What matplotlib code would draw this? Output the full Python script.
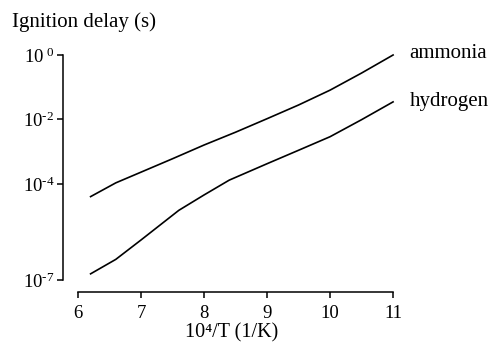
import matplotlib
matplotlib.use("Agg")
import matplotlib.pyplot as plt
from matplotlib.ticker import FixedLocator, FixedFormatter, NullLocator

plt.rcParams['font.family'] = ['Liberation Serif', 'DejaVu Serif']
plt.rcParams['mathtext.fontset'] = 'custom'
plt.rcParams['mathtext.rm'] = 'Liberation Serif'
plt.rcParams['mathtext.it'] = 'Liberation Serif:italic'

# data (x = 10^4/T, y = ignition delay in s)
x_ammonia = [6.2, 6.6, 7.0, 7.5, 8.0, 8.5, 9.0, 9.5, 10.0, 10.5, 11.0]
y_ammonia = [4.0e-5, 1.07e-4, 2.3e-4, 6.0e-4, 1.6e-3, 4.0e-3, 1.05e-2, 2.8e-2, 8.1e-2, 0.275, 1.0]
x_hydrogen = [6.2, 6.6, 7.0, 7.6, 8.0, 8.4, 9.0, 9.5, 10.0, 10.5, 11.0]
y_hydrogen = [1.6e-7, 4.5e-7, 1.8e-6, 1.5e-5, 4.5e-5, 1.3e-4, 4.2e-4, 1.1e-3, 2.9e-3, 9.8e-3, 3.5e-2]
x_ticks = [6, 7, 8, 9, 10, 11]
y_ticks = [1e-7, 1e-4, 1e-2, 1e0]
y_ticklabels = ['10$^{\\mathregular{\u20107}}$', '10$^{\\mathregular{\u20104}}$',
                '10$^{\\mathregular{\u20102}}$', r'10$^{\mathregular{\ 0}}$']

fig = plt.figure(figsize=(4.93, 3.46), dpi=100)
ax = fig.add_axes([63.5/493, 54/346, (400-63.5)/493, (292-53)/346])

ax.plot(x_ammonia, y_ammonia, color='black', lw=1.2)
ax.plot(x_hydrogen, y_hydrogen, color='black', lw=1.2)
ax.set_yscale('log')
ax.set_xlim(5.77, 11.11)
ax.set_ylim(10**-7.36, 10**0.062)

ax.xaxis.set_major_locator(FixedLocator(x_ticks))
ax.yaxis.set_major_locator(FixedLocator(y_ticks))
ax.yaxis.set_major_formatter(FixedFormatter(y_ticklabels))
ax.yaxis.set_minor_locator(NullLocator())

for s in ['top', 'right']:
    ax.spines[s].set_visible(False)
ax.spines['left'].set_bounds(1e-7, 1e0)
ax.spines['bottom'].set_bounds(6, 11)
for s in ['left', 'bottom']:
    ax.spines[s].set_linewidth(1.1)
ax.tick_params(direction='out', length=4.5, width=1.1, labelsize=13.5)
ax.tick_params(axis='x', pad=5)
ax.tick_params(axis='y', pad=2)

ax.set_xlabel('10\u2074/T (1/K)', fontsize=14.5, labelpad=0.5)
fig.text(12/493, 1 - 22/346, 'Ignition delay (s)', fontsize=15, ha='left', va='center')

ax.annotate('ammonia', xy=(x_ammonia[-1], y_ammonia[-1]), xytext=(12, 1),
            textcoords='offset points', ha='left', va='center', fontsize=15,
            annotation_clip=False)
ax.annotate('hydrogen', xy=(x_hydrogen[-1], y_hydrogen[-1]), xytext=(12, 0),
            textcoords='offset points', ha='left', va='center', fontsize=15,
            annotation_clip=False)

fig.savefig('out.png', dpi=100)
